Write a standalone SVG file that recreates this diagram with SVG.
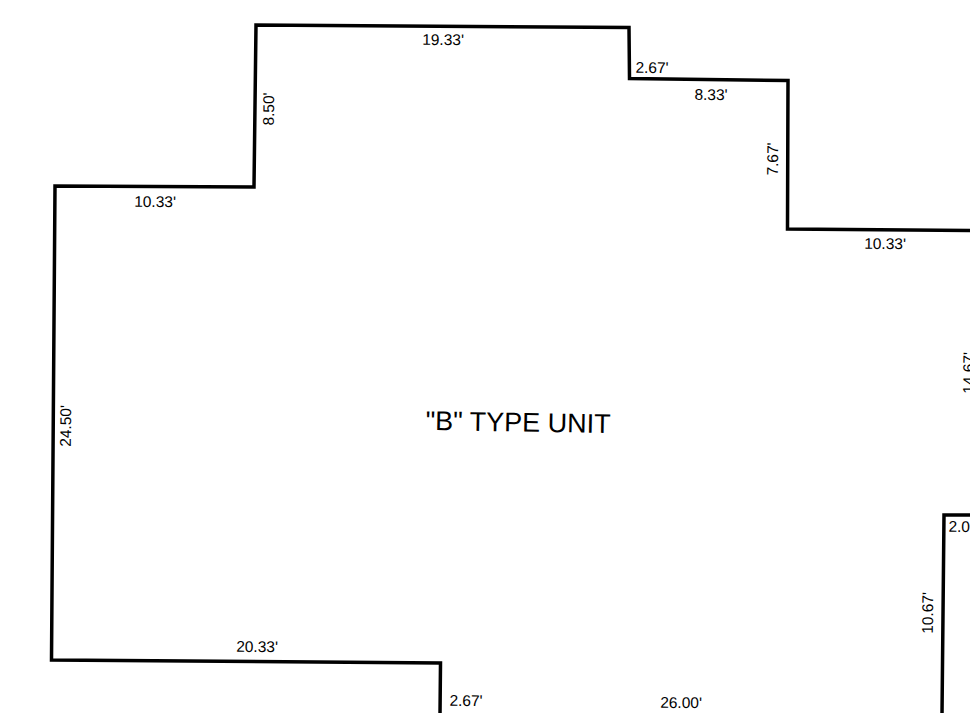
<svg xmlns="http://www.w3.org/2000/svg" width="970" height="713" viewBox="0 0 970 713">
<style>
.wall{fill:none;stroke:#000;stroke-width:3.5;stroke-linejoin:miter}
text{font-family:"Liberation Sans",Arial,sans-serif;fill:#000}
.d{font-size:15.5px;text-anchor:middle}
</style>
<rect width="970" height="713" fill="#fff"/>
<g id="walls">
<path class="wall" d="M972 230.5L787.5 229L788 80.5L629.5 78.5L629 27.5L256 25L254 187L55 186L51.5 660L440.5 663L440 715"/>
<path class="wall" d="M972 515L944 515L942 715"/>
</g>
<g id="labels">
<text class="d" transform="translate(443 45) rotate(0.5)">19.33'</text>
<text class="d" transform="translate(652 73) rotate(0.5)">2.67'</text>
<text class="d" transform="translate(711 100) rotate(0.5)">8.33'</text>
<text class="d" transform="translate(274 109) rotate(-89.5)">8.50'</text>
<text class="d" transform="translate(778 159) rotate(-89.5)">7.67'</text>
<text class="d" transform="translate(155 207) rotate(0.5)">10.33'</text>
<text class="d" transform="translate(885 249) rotate(0.5)">10.33'</text>
<text class="d" transform="translate(974 373) rotate(-89.5)">14.67'</text>
<text class="d" transform="translate(71 426) rotate(-89.5)">24.50'</text>
<text class="d" transform="translate(965 532) rotate(0.5)">2.00'</text>
<text class="d" transform="translate(933 613) rotate(-89.5)">10.67'</text>
<text class="d" transform="translate(257 652) rotate(0.5)">20.33'</text>
<text class="d" transform="translate(466 706) rotate(0.5)">2.67'</text>
<text class="d" transform="translate(681 708) rotate(0.5)">26.00'</text>
<text transform="translate(518 431.5) rotate(1)" font-size="27" text-anchor="middle">"B" TYPE UNIT</text>
</g>
</svg>
